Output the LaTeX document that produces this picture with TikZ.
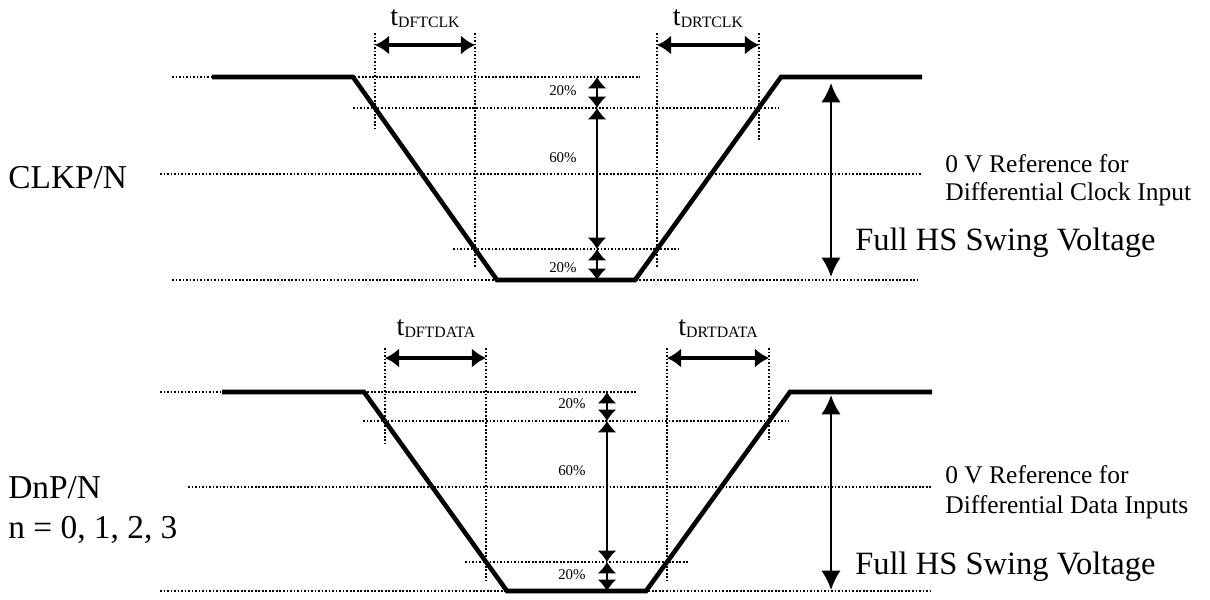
\documentclass[tikz,border=0pt]{standalone}
\usepackage{fontspec}
\setmainfont{Liberation Serif}
\usetikzlibrary{arrows.meta}
\newcommand{\tdelay}[1]{{\fontsize{16}{18}\selectfont t}\raisebox{-1.5pt}{\fontsize{9}{10}\selectfont #1}}

\begin{document}
\begin{tikzpicture}[x=0.02cm, y=-0.02cm,
    sig/.style={line width=2.6pt},
    guide/.style={densely dotted, line width=1pt},
    pct/.style={line width=1.2pt, >={Latex[length=6.5pt,width=11pt]}, <->},
    span/.style={line width=1.8pt, >={Latex[length=8pt,width=11pt]}, <->},
    swing/.style={line width=1.4pt, >={Latex[length=11pt,width=11pt]}, <->},
    big/.style={font=\fontsize{19}{22}\selectfont, inner sep=0pt},
    reftxt/.style={font=\fontsize{14.5}{17}\selectfont, inner sep=0pt},
    swingtxt/.style={font=\fontsize{18.5}{22}\selectfont, inner sep=0pt},
    pcttxt/.style={font=\fontsize{8.5}{10}\selectfont, inner sep=0pt}]
  \useasboundingbox (0,0) rectangle (1210,599);

  % clock lane
  \draw [guide] (172,77) -- (640,77);
  \draw [guide] (353,108) -- (779,108);
  \draw [guide] (160,174) -- (922,174);
  \draw [guide] (453,249) -- (679,249);
  \draw [guide] (172,280) -- (917,280);
  \draw [guide] (375,33) -- (375,128);
  \draw [guide] (475,33) -- (475,267);
  \draw [guide] (657,33) -- (657,267);
  \draw [guide] (759,33) -- (759,140);
  \draw [sig] (212,77) -- (353,77) -- (497,280) -- (635,280) -- (781,77) -- (922,77);

  \coordinate (fa) at (375,45);  \coordinate (fb) at (475,45);
  \coordinate (ra) at (657,45);  \coordinate (rb) at (759,45);
  \draw [span] (fa) -- (fb);
  \draw [span] (ra) -- (rb);
  \node (tfclk) [anchor=base, inner sep=0pt] at (425,25) {\tdelay{DFTCLK}};
  \node (trclk) [anchor=base, inner sep=0pt] at (708,25) {\tdelay{DRTCLK}};

  \coordinate (ck0) at (597,77);  \coordinate (ck1) at (597,108);
  \coordinate (ck2) at (597,249); \coordinate (ck3) at (597,280);
  \draw [pct] (ck0) -- (ck1);
  \draw [pct] (ck1) -- (ck2);
  \draw [pct] (ck2) -- (ck3);
  \node (ckp1) [pcttxt, anchor=base east] at (577,95) {20\%};
  \node (ckp2) [pcttxt, anchor=base east] at (577,162) {60\%};
  \node (ckp3) [pcttxt, anchor=base east] at (577,272) {20\%};

  \coordinate (cks0) at (831,83); \coordinate (cks1) at (831,277);
  \draw [swing] (cks0) -- (cks1);
  \node (ckswing) [swingtxt, anchor=base west] at (855,250) {Full HS Swing Voltage};
  \node (ckref1) [reftxt, anchor=base west] at (945,172) {0 V Reference for};
  \node (ckref2) [reftxt, anchor=base west] at (945,200) {Differential Clock Input};
  \node (cklbl) [big, anchor=base west] at (8,188) {CLKP/N};

  % data lane
  \draw [guide] (160,392) -- (637,392);
  \draw [guide] (363,421) -- (789,421);
  \draw [guide] (188,487) -- (932,487);
  \draw [guide] (465,562) -- (689,562);
  \draw [guide] (160,591) -- (930,591);
  \draw [guide] (385,348) -- (385,443);
  \draw [guide] (486,348) -- (486,580);
  \draw [guide] (667,348) -- (667,580);
  \draw [guide] (769,348) -- (769,440);
  \draw [sig] (222,392) -- (364,392) -- (507,591) -- (646,591) -- (790,392) -- (932,392);

  \coordinate (dfa) at (385,358); \coordinate (dfb) at (486,358);
  \coordinate (dra) at (667,358); \coordinate (drb) at (769,358);
  \draw [span] (dfa) -- (dfb);
  \draw [span] (dra) -- (drb);
  \node (tfdat) [anchor=base, inner sep=0pt] at (436,335) {\tdelay{DFTDATA}};
  \node (trdat) [anchor=base, inner sep=0pt] at (718,335) {\tdelay{DRTDATA}};

  \coordinate (dk0) at (607,392); \coordinate (dk1) at (607,421);
  \coordinate (dk2) at (607,562); \coordinate (dk3) at (607,591);
  \draw [pct] (dk0) -- (dk1);
  \draw [pct] (dk1) -- (dk2);
  \draw [pct] (dk2) -- (dk3);
  \node (dkp1) [pcttxt, anchor=base east] at (586,408) {20\%};
  \node (dkp2) [pcttxt, anchor=base east] at (586,475) {60\%};
  \node (dkp3) [pcttxt, anchor=base east] at (586,579) {20\%};

  \coordinate (dks0) at (831,395); \coordinate (dks1) at (831,590);
  \draw [swing] (dks0) -- (dks1);
  \node (dkswing) [swingtxt, anchor=base west] at (855,574) {Full HS Swing Voltage};
  \node (dkref1) [reftxt, anchor=base west] at (945,483) {0 V Reference for};
  \node (dkref2) [reftxt, anchor=base west] at (945,513) {Differential Data Inputs};
  \node (dlbl) [big, anchor=base west] at (8,498) {DnP/N};
  \node (dnum) [big, anchor=base west] at (8,538) {n = 0, 1, 2, 3};
\end{tikzpicture}
\end{document}
